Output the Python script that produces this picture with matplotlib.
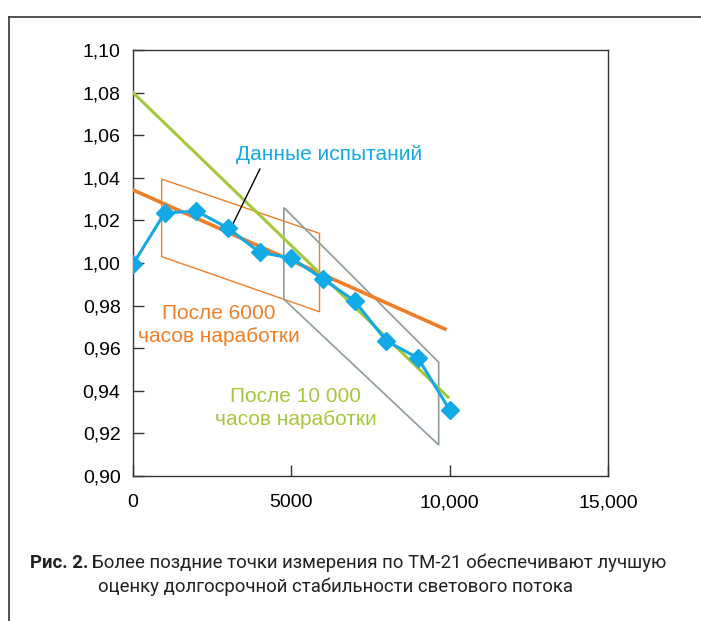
import numpy as np
import matplotlib.pyplot as plt
from matplotlib.lines import Line2D
from matplotlib.patches import Polygon

plt.rcParams['font.family'] = ['Liberation Sans', 'DejaVu Sans']

# Data
hours = [0, 1000, 2000, 3000, 4000, 5000, 6000, 7000, 8000, 9000, 10000]
flux = [0.9995, 1.0235, 1.0244, 1.0164, 1.0050, 1.0023, 0.9925, 0.9822, 0.9634, 0.9554, 0.9310]

# fitted trend lines (end points)
fit6000_x = [0, 9850]
fit6000_y = [1.0343, 0.9690]
fit10000_x = [0, 9950]
fit10000_y = [1.0800, 0.9370]

# windows used for the fits
box6000_x = [905, 5890, 5890, 905]
box6000_y = [1.0394, 1.0139, 0.9771, 1.0030]
box10000_x = [4763, 9653, 9653, 4763]
box10000_y = [1.0260, 0.9534, 0.9146, 0.9830]

# leader line from the label to the curve
leader_x = [4006, 3155]
leader_y = [1.0441, 1.0183]

x_ticks = [0, 5000, 10000, 15000]
x_labels = ['0', '5000', '10,000', '15,000']
y_ticks = np.arange(0.90, 1.1001, 0.02)
y_labels = [f'{v:.2f}'.replace('.', ',') for v in y_ticks]

BLUE = '#12aae6'
ORANGE = '#f07e26'
GREEN = '#a3c93a'
GRAY = '#8d9c96'

fig = plt.figure(figsize=(7.01, 6.21), dpi=100)
ax = fig.add_axes([133 / 701, 1 - 476 / 621, 475 / 701, 426 / 621])

ax.add_patch(Polygon(list(zip(box6000_x, box6000_y)), closed=True, fill=False,
                     edgecolor=ORANGE, lw=1.0, zorder=2))
ax.add_patch(Polygon(list(zip(box10000_x, box10000_y)), closed=True, fill=False,
                     edgecolor=GRAY, lw=1.2, zorder=2))

ax.plot(fit6000_x, fit6000_y, color=ORANGE, lw=2.6, zorder=3)
ax.plot(fit10000_x, fit10000_y, color=GREEN, lw=2.2, zorder=3)
ax.plot(leader_x, leader_y, color='black', lw=1.0, zorder=3)
ax.plot(hours, flux, color=BLUE, lw=2.2, marker='D', ms=9, mec=BLUE, zorder=4)

ax.set_xlim(0, 15000)
ax.set_ylim(0.90, 1.10)
ax.set_xticks(x_ticks)
ax.set_xticklabels(x_labels)
ax.set_yticks(y_ticks)
ax.set_yticklabels(y_labels)
ax.tick_params(direction='in', length=8, width=1, labelsize=14, color='#333333')
ax.tick_params(axis='x', pad=13)
ax.tick_params(axis='y', pad=9)
for s in ax.spines.values():
    s.set_linewidth(1.0)
    s.set_color('#333333')

# annotations
ax.text(6200, 1.0508, 'Данные испытаний', color=BLUE, fontsize=15,
        ha='center', va='center')
ax.text(2720, 0.9710, 'После 6000\nчасов наработки', color=ORANGE, fontsize=15,
        ha='center', va='center', linespacing=1.3)
ax.text(5130, 0.9320, 'После 10 000\nчасов наработки', color=GREEN, fontsize=15,
        ha='center', va='center', linespacing=1.25)

# page frame
fig.add_artist(Line2D([9 / 701, 9 / 701], [0, 1 - 17 / 621], color='#333333', lw=1.2))
fig.add_artist(Line2D([9 / 701, 1], [1 - 17 / 621, 1 - 17 / 621], color='#333333', lw=1.2))

# caption
cap_font = ['Roboto', 'DejaVu Sans']
t1 = fig.text(30 / 701, 1 - 563 / 621, 'Рис. 2.', family=cap_font, fontsize=13.4,
              fontweight='bold', color='#222222', va='center')
fig.canvas.draw()
bb = t1.get_window_extent()
fig.text((bb.x1 + 4) / 701, 1 - 563 / 621,
         'Более поздние точки измерения по ТМ-21 обеспечивают лучшую',
         family=cap_font, fontsize=13.4, color='#222222', va='center')
fig.text(98 / 701, 1 - 587 / 621, 'оценку долгосрочной стабильности светового потока',
         family=cap_font, fontsize=13.4, color='#222222', va='center')

fig.savefig('out.png', dpi=100)
